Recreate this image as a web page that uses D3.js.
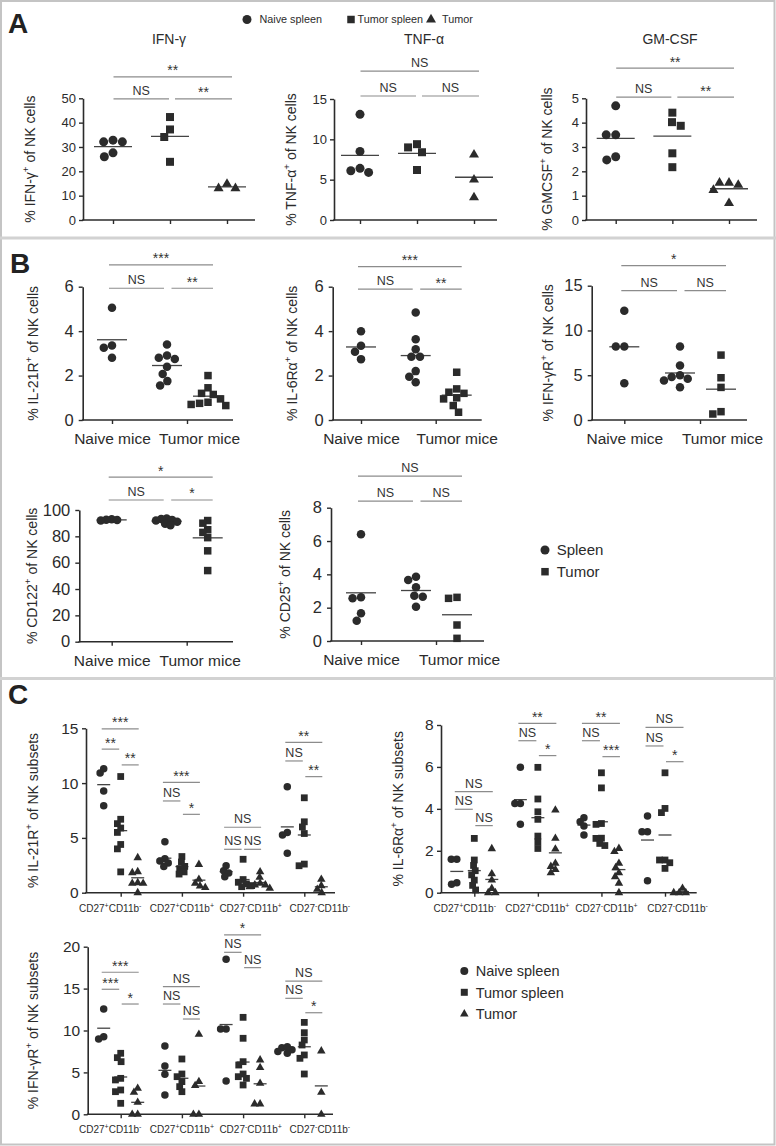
<!DOCTYPE html>
<html><head><meta charset="utf-8">
<script src="https://cdn.jsdelivr.net/npm/d3@7"></script>
<style>
html,body{margin:0;padding:0;background:#fff;}
svg{display:block;}
</style></head><body>
<svg id="fig" width="776" height="1146"></svg>
<script>
// ================= DATA =================
const groupNames = ["Naive spleen", "Tumor spleen", "Tumor"];
const tissueNames = ["Spleen", "Tumor"];
const miceNames = ["Naive mice", "Tumor mice"];
const subsetLabels = ["CD27^+^CD11b^-^", "CD27^+^CD11b^+^", "CD27^-^CD11b^+^", "CD27^-^CD11b^-^"];

// ---- Panel A ----
const aTitles = ["IFN-γ", "TNF-α", "GM-CSF"];
const aYLabels = ["% IFN-γ^+^ of NK cells", "% TNF-α^+^ of NK cells", "% GMCSF^+^ of NK cells"];

const ifngNaive = [32.1, 32.1, 32.8, 26.0, 27.6];
const ifngTumorSpleen = [42.3, 37.2, 34.1, 23.9];
const ifngTumor = [14.8, 13.0, 13.0];
const ifngTicks = [0, 10, 20, 30, 40, 50];
const ifngSig = [["**", 0, 2, 58.8], ["NS", 0, 1, 49.8], ["**", 1, 2, 49.8]];

const tnfNaive = [13.1, 8.5, 6.4, 5.9, 6.1];
const tnfTumorSpleen = [9.0, 8.4, 9.4, 6.2];
const tnfTumor = [8.1, 5.0, 2.8];
const tnfTicks = [0, 5, 10, 15];
const tnfSig = [["NS", 0, 2, 18.46], ["NS", 0, 1, 15.37], ["NS", 1, 2, 15.37]];

const gmcsfNaive = [4.69, 3.5, 3.5, 2.47, 2.6];
const gmcsfTumorSpleen = [4.41, 3.87, 4.02, 2.74, 2.17];
const gmcsfTumor = [1.53, 1.44, 1.23, 1.53, 0.69];
const gmcsfTicks = [0, 1, 2, 3, 4, 5];
const gmcsfSig = [["**", 0, 2, 6.24], ["NS", 0, 1, 5.05], ["**", 1, 2, 5.05]];

// ---- Panel B ----
const bYLabels = ["% IL-21R^+^ of NK cells", "% IL-6Rα^+^ of NK cells", "% IFN-γR^+^ of NK cells",
                  "% CD122^+^ of NK cells", "% CD25^+^ of NK cells"];

const il21rNaive = [5.05, 3.35, 3.25, 2.8];
const il21rTumorSpleen = [3.4, 2.9, 2.75, 2.8, 2.4, 2.07, 1.55, 1.75];
const il21rTumor = [2.0, 1.45, 1.2, 1.15, 0.95, 0.8, 0.75, 0.7, 0.65];
const il21rTicks = [0, 2, 4, 6];
const il21rSig = [["***", 0, 2, 6.98], ["NS", 0, 1, 5.93], ["**", 1, 2, 5.93]];

const il6raNaive = [4.0, 3.34, 2.74, 3.07];
const il6raTumorSpleen = [4.84, 3.63, 3.18, 2.85, 2.85, 2.2, 1.95, 1.7];
const il6raTumor = [2.15, 1.4, 1.25, 1.2, 1.0, 0.95, 0.65, 0.35];
const il6raTicks = [0, 2, 4, 6];
const il6raSig = [["***", 0, 2, 6.9], ["NS", 0, 1, 5.89], ["**", 1, 2, 5.89]];

const ifngrNaive = [12.2, 8.2, 8.2, 4.1];
const ifngrTumorSpleen = [8.2, 6.1, 5.0, 4.8, 4.6, 4.4, 3.65];
const ifngrTumor = [7.25, 4.72, 3.64, 0.93, 0.67];
const ifngrTicks = [0, 5, 10, 15];
const ifngrSig = [["*", 0, 2, 17.24], ["NS", 0, 1, 14.45], ["NS", 1, 2, 14.45]];

const cd122Naive = [93, 92.6, 92.4, 92];
const cd122TumorSpleen = [93.5, 93.2, 92.5, 92, 91, 89.5, 88.5];
const cd122Tumor = [92, 85, 79, 83, 90, 69, 54];
const cd122Ticks = [0, 20, 40, 60, 80, 100];
const cd122Sig = [["*", 0, 2, 125], ["NS", 0, 1, 107.6], ["*", 1, 2, 107.6]];

const cd25Naive = [6.4, 2.62, 2.56, 1.66, 1.22];
const cd25TumorSpleen = [3.66, 3.86, 3.22, 2.72, 2.66, 2.06];
const cd25Tumor = [2.56, 2.62, 0.96, 0.16];
const cd25Ticks = [0, 2, 4, 6, 8];
const cd25Sig = [["NS", 0, 2, 9.9], ["NS", 0, 1, 8.4], ["NS", 1, 2, 8.4]];

// ---- Panel C (one inner list per subset) ----
const cYLabels = ["% IL-21R^+^ of NK subsets", "% IL-6Rα^+^ of NK subsets", "% IFN-γR^+^ of NK subsets"];

const il21rSubNaive = [[10.92, 11.3, 9.28, 7.93], [4.65, 3.1, 2.9, 2.7, 2.4], [2.45, 2.0, 1.8, 1.45], [9.67, 5.5, 5.26, 3.59]];
const il21rSubTumorSpleen = [[10.6, 6.7, 6.3, 5.9, 5.5, 4.4, 4.0, 1.9], [3.3, 2.8, 2.4, 2.2, 1.9, 1.7],
                             [3.05, 1.2, 0.95, 0.8, 0.65, 0.55], [8.66, 6.47, 6.0, 5.4, 2.46, 2.61]];
const il21rSubTumor = [[3.19, 1.91, 1.82, 0.91, 0.85, 0.85, 0.0], [2.58, 1.22, 0.85, 0.61, 0.46],
                       [1.9, 1.4, 0.85, 0.7, 0.7, 0.55, 0.4], [1.22, 0.64, 0.3, 0.0]];
const il21rSubTicks = [0, 5, 10, 15];
const il21rSubSig = [
  [["***", 0, 2, 14.94], ["**", 0, 1, 13.1], ["**", 1, 2, 11.66]],
  [["***", 0, 2, 10.07], ["NS", 0, 1, 8.37], ["*", 1, 2, 7.15]],
  [["NS", 0, 2, 5.97], ["NS", 0, 1, 3.96], ["NS", 1, 2, 3.96]],
  [["**", 0, 2, 13.72], ["NS", 0, 1, 12.02], ["**", 1, 2, 10.59]]
];

const il6raSubNaive = [[1.59, 1.59, 0.4, 0.48], [5.98, 4.26, 4.26, 3.26], [3.58, 3.39, 3.18, 2.75], [3.66, 2.91, 2.91, 0.57]];
const il6raSubTumorSpleen = [[2.59, 1.56, 1.3, 1.05, 0.85, 0.6, 0.35, 0.13], [5.98, 4.47, 3.86, 3.5, 2.7, 2.11, 2.43],
                             [5.72, 5.0, 3.3, 3.26, 2.6, 2.59, 2.25, 2.35], [5.72, 4.02, 3.82, 1.56, 1.56, 1.43, 1.16]];
const il6raSubTumor = [[2.1, 0.9, 0.6, 0.2, 0.0, 0.0], [3.94, 2.59, 2.08, 1.4, 1.25, 1.1, 0.95],
                       [2.11, 1.96, 1.4, 1.19, 0.95, 0.76, 0.45, 0.0], [0.0, 0.0, 0.0, 0.21]];
const il6raSubTicks = [0, 2, 4, 6, 8];
const il6raSubSig = [
  [["NS", 0, 2, 4.82], ["NS", 0, 1, 3.98], ["NS", 1, 2, 3.2]],
  [["**", 0, 2, 8.08], ["NS", 0, 1, 7.25], ["*", 1, 2, 6.54]],
  [["**", 0, 2, 8.08], ["NS", 0, 1, 7.25], ["***", 1, 2, 6.49]],
  [["NS", 0, 2, 7.89], ["NS", 0, 1, 7.0], ["*", 1, 2, 6.25]]
];

const ifngrSubNaive = [[12.56, 9.26, 9.0], [8.15, 5.77, 4.77, 2.3], [18.5, 10.18, 10.18, 3.98], [7.95, 7.5, 8.05, 7.7, 7.3]];
const ifngrSubTumorSpleen = [[7.28, 6.76, 6.28, 4.1, 4.29, 2.9, 2.7, 1.31], [6.6, 4.81, 4.49, 3.9, 3.3, 2.7],
                             [11.57, 9.07, 6.28, 5.88, 4.49, 4.81, 4.29, 3.5], [10.97, 9.74, 8.87, 8.27, 7.08, 6.68, 4.81]];
const ifngrSubTumor = [[2.62, 3.1, 1.43, 0, 0], [9.54, 3.9, 3.42, 0, 0], [6.48, 5.57, 3.7, 1.23, 1.23], [7.55, 2.62, 0]];
const ifngrSubTicks = [0, 5, 10, 15, 20];
const ifngrSubSig = [
  [["***", 0, 2, 16.95], ["***", 0, 1, 14.92], ["*", 1, 2, 13.16]],
  [["NS", 0, 2, 15.23], ["NS", 0, 1, 13.16], ["NS", 1, 2, 11.37]],
  [["*", 0, 2, 21.4], ["NS", 0, 1, 19.33], ["NS", 1, 2, 17.5]],
  [["NS", 0, 2, 15.9], ["NS", 0, 1, 13.84], ["*", 1, 2, 12.12]]
];

// ================= DRAWING =================
const FONT = "'Liberation Sans', Arial, Helvetica, sans-serif";
const INK = "#2b2b2b";
const SIGC = "#8c8c8c";
const svg = d3.select("#fig").attr("font-family", FONT);
const shapeTypes = {circle: d3.symbolCircle, square: d3.symbolSquare, triangle: d3.symbolTriangle};
const groupShapes = ["circle", "square", "triangle"];
const fmt = d3.format("~g");

function symPath(shape, s) {
  const area = shape === "circle" ? Math.PI * (s / 2) * (s / 2)
             : shape === "square" ? s * s : Math.sqrt(3) / 4 * s * s;
  return d3.symbol().type(shapeTypes[shape]).size(area)();
}

function addRich(textSel, str, fs) {
  const parts = str.split("^");
  let shifted = false;
  parts.forEach((p, i) => {
    if (p === "") return;
    const t = textSel.append("tspan").text(p);
    if (i % 2 === 1) { t.attr("font-size", fs * 0.7).attr("dy", -fs * 0.42); shifted = true; }
    else if (shifted) { t.attr("dy", fs * 0.42); shifted = false; }
  });
}

function swarm(values, y, minDist) {
  const pts = values.map(v => ({v, y: y(v), dx: 0}));
  const order = pts.slice().sort((a, b) => a.y - b.y);
  const placed = [];
  order.forEach(p => {
    const iv = [];
    placed.forEach(q => {
      const dy = Math.abs(q.y - p.y);
      if (dy < minDist) { const w = Math.sqrt(minDist * minDist - dy * dy); iv.push([q.dx - w, q.dx + w]); }
    });
    const cands = [0];
    iv.forEach(([a, b]) => cands.push(a, b));
    cands.sort((a, b) => Math.abs(a) - Math.abs(b) || a - b);
    for (const c of cands) {
      if (iv.every(([a, b]) => c <= a + 1e-6 || c >= b - 1e-6)) { p.dx = c; break; }
    }
    placed.push(p);
  });
  return pts;
}

const styleA = {tickFont: 13, tickPad: 3, catFont: 0, catPad: 0, mark: {circle: 9, square: 8, triangle: 10},
                meanHalf: 19, minDist: 9.5, sg: [-0.5, 5, 1, 5], ylFont: 14};
const styleB = {tickFont: 16.5, tickPad: 5, catFont: 15.5, catPad: 9, mark: {circle: 8.5, square: 7.5, triangle: 9},
                meanHalf: 15, minDist: 8.5, sg: [3, 4.5, 3, 5], ylFont: 14};
const styleC = {tickFont: 15.5, tickPad: 3.5, catFont: 10, catPad: 8, mark: {circle: 7.5, square: 6.8, triangle: 8.5},
                meanHalf: 6.5, minDist: 5.5, sg: [2, 1, 1.5, 1], ylFont: 14};

function dotPlot(c) {
  const st = c.style;
  const g = svg.append("g");
  const y = d3.scaleLinear().domain(c.domain).range([c.yBottom, c.yTop]);
  const xc = d3.scalePoint().domain(c.cats).range(c.catRange);
  const xs = c.subs ? d3.scalePoint().domain(c.subs).range(c.subRange) : null;
  const posOf = s => xc(s.cat) + (s.sub != null ? xs(s.sub) : 0);
  const minDist = c.minDist || st.minDist;

  // y axis
  const yg = g.append("g").attr("transform", `translate(${c.x0},0)`)
    .call(d3.axisLeft(y).tickValues(c.ticks).tickFormat(fmt).tickSize(4).tickSizeOuter(0).tickPadding(st.tickPad));
  yg.attr("font-family", FONT);
  yg.select(".domain").attr("stroke", INK).attr("stroke-width", 1.6);
  yg.selectAll(".tick line").attr("stroke", INK).attr("stroke-width", 1.4);
  yg.selectAll(".tick text").attr("font-size", st.tickFont).attr("fill", INK);

  // x axis
  const xa = d3.axisBottom(xc).tickSize(4).tickSizeOuter(0).tickPadding(st.catPad);
  if (!st.catFont) xa.tickFormat(() => "");
  const xg = g.append("g").attr("transform", `translate(0,${c.yBottom})`).call(xa);
  xg.attr("font-family", FONT);
  xg.select(".domain").remove();
  xg.selectAll(".tick line").attr("stroke", INK).attr("stroke-width", 1.4);
  xg.selectAll(".tick text").attr("font-size", st.catFont).attr("fill", INK)
    .attr("x", (d, i) => c.catShift ? c.catShift[i] : 0)
    .each(function (d) {
      const t = d3.select(this);
      if (c.richCats) { t.text(null); addRich(t, d, st.catFont); }
    });
  g.append("line").attr("x1", c.x0 - 0.8).attr("x2", c.xEnd).attr("y1", c.yBottom).attr("y2", c.yBottom)
    .attr("stroke", INK).attr("stroke-width", 1.6);

  // points + mean lines
  c.series.forEach(s => {
    const cx = posOf(s);
    const pts = swarm(s.values, y, minDist);
    g.append("line").attr("x1", cx - st.meanHalf).attr("x2", cx + st.meanHalf)
      .attr("y1", y(d3.mean(s.values))).attr("y2", y(d3.mean(s.values)))
      .attr("stroke", "#444").attr("stroke-width", 1.3);
    g.selectAll(null).data(pts).join("path")
      .attr("d", symPath(s.shape, st.mark[s.shape]))
      .attr("transform", p => `translate(${cx + p.dx},${p.y})`)
      .attr("fill", INK);
  });

  // significance bars
  c.sig.forEach(([lab, a, b, lev, base]) => {
    const ia = (base || 0) + a, ib = (base || 0) + b;
    const pa = posOf(c.series[ia]), pb = posOf(c.series[ib]);
    const x1 = (a === 1) ? pa + st.sg[1] : pa - st.sg[0];
    const x2 = (b === 1) ? pb - st.sg[2] : pb + st.sg[3];
    const ly = y(lev);
    g.append("line").attr("x1", x1).attr("x2", x2).attr("y1", ly).attr("y2", ly)
      .attr("stroke", SIGC).attr("stroke-width", 1.2);
    const star = lab.includes("*");
    g.append("text").attr("x", (x1 + x2) / 2).attr("y", ly - (star ? 1.5 : 4))
      .attr("text-anchor", "middle").attr("font-size", star ? 14 : 12.5).attr("fill", "#333").text(lab);
  });

  // y label
  const yl = g.append("text")
    .attr("transform", `translate(${c.ylX},${(c.yTop + c.yBottom) / 2}) rotate(-90)`)
    .attr("text-anchor", "middle").attr("dy", "0.35em").attr("font-size", st.ylFont).attr("fill", INK);
  addRich(yl, c.ylabel, st.ylFont);

  if (c.title) {
    g.append("text").attr("x", c.titleX).attr("y", c.titleY).attr("text-anchor", "middle")
      .attr("font-size", 14).attr("fill", INK).text(c.title);
  }
}

function seriesA(n, t, u) {
  return [{cat: groupNames[0], values: n, shape: "circle"},
          {cat: groupNames[1], values: t, shape: "square"},
          {cat: groupNames[2], values: u, shape: "triangle"}];
}
function seriesB(n, t, u) {
  return [{cat: miceNames[0], sub: null, values: n, shape: "circle"},
          {cat: miceNames[1], sub: tissueNames[0], values: t, shape: "circle"},
          {cat: miceNames[1], sub: tissueNames[1], values: u, shape: "square"}];
}
function seriesC(n, t, u) {
  const out = [];
  subsetLabels.forEach((s, j) => {
    [n, t, u].forEach((arr, k) => out.push({cat: s, sub: groupNames[k], values: arr[j], shape: groupShapes[k]}));
  });
  return out;
}
function sigC(list) {
  const out = [];
  list.forEach((grp, j) => grp.forEach(([l, a, b, v]) => out.push([l, a, b, v, j * 3])));
  return out;
}

// frame & separators
svg.append("rect").attr("x", 1).attr("y", 1).attr("width", 773.5).attr("height", 1143.5)
  .attr("fill", "none").attr("stroke", "#c4c4c4").attr("stroke-width", 2);
[238, 678.5].forEach(v => svg.append("line").attr("x1", 0).attr("x2", 776).attr("y1", v).attr("y2", v)
  .attr("stroke", "#d2d2d2").attr("stroke-width", 3));

// panel letters
[["A", 8, 33], ["B", 10, 273], ["C", 8, 704]].forEach(([t, x, yy]) =>
  svg.append("text").attr("x", x).attr("y", yy).attr("font-size", 28).attr("font-weight", "bold")
    .attr("fill", "#222").text(t));

// Panel A
dotPlot({style: styleA, x0: 83, xEnd: 255, yTop: 98.3, yBottom: 220, domain: [0, 50], ticks: ifngTicks,
  cats: groupNames, catRange: [113, 227], series: seriesA(ifngNaive, ifngTumorSpleen, ifngTumor),
  sig: ifngSig, ylabel: aYLabels[0], ylX: 30, title: aTitles[0], titleX: 169, titleY: 43.5});
dotPlot({style: styleA, x0: 334, xEnd: 497, yTop: 99, yBottom: 220, domain: [0, 15], ticks: tnfTicks,
  cats: groupNames, catRange: [360, 474], series: seriesA(tnfNaive, tnfTumorSpleen, tnfTumor),
  sig: tnfSig, ylabel: aYLabels[1], ylX: 291, title: aTitles[1], titleX: 424, titleY: 43.5});
dotPlot({style: styleA, x0: 586, xEnd: 757, yTop: 98.3, yBottom: 220, domain: [0, 5], ticks: gmcsfTicks,
  cats: groupNames, catRange: [615.7, 729], series: seriesA(gmcsfNaive, gmcsfTumorSpleen, gmcsfTumor),
  sig: gmcsfSig, ylabel: aYLabels[2], ylX: 547, title: aTitles[2], titleX: 670, titleY: 43.5});

// Panel A legend
const legA = [[247, 259.5], [351, 357.5], [431, 442]];
legA.forEach(([mx, tx], k) => {
  const sz = {circle: 9, square: 7.5, triangle: 10}[groupShapes[k]];
  svg.append("path").attr("d", symPath(groupShapes[k], sz)).attr("transform", `translate(${mx},19.5)`).attr("fill", INK);
  svg.append("text").attr("x", tx).attr("y", 23.3).attr("font-size", 10.8).attr("fill", INK).text(groupNames[k]);
});

// Panel B
const bLayouts = [
  [82.7, 233, 286.7, 420, [0, 6], il21rTicks, [112, 187], seriesB(il21rNaive, il21rTumorSpleen, il21rTumor), il21rSig, 0, 33, 12, 0],
  [332.7, 481.7, 286.7, 420, [0, 6], il6raTicks, [361, 435.7], seriesB(il6raNaive, il6raTumorSpleen, il6raTumor), il6raSig, 1, 292, 21, 0],
  [591.7, 747, 285.7, 420, [0, 15], ifngrTicks, [624.3, 700], seriesB(ifngrNaive, ifngrTumorSpleen, ifngrTumor), ifngrSig, 2, 548, 22, 0],
  [79.3, 233, 510, 641.7, [0, 100], cd122Ticks, [111.7, 186.7], seriesB(cd122Naive, cd122TumorSpleen, cd122Tumor), cd122Sig, 3, 32, 13, 5.5],
  [331, 484, 507.7, 641, [0, 8], cd25Ticks, [361, 436], seriesB(cd25Naive, cd25TumorSpleen, cd25Tumor), cd25Sig, 4, 285, 23, 0]
];
bLayouts.forEach(([x0, xEnd, yT, yB, dom, ticks, cr, ser, sig, li, ylX, shift, md]) =>
  dotPlot({style: styleB, x0, xEnd, yTop: yT, yBottom: yB, domain: dom, ticks, cats: miceNames, catRange: cr,
    subs: tissueNames, subRange: [-20, 21], series: ser, sig, ylabel: bYLabels[li], ylX,
    catShift: [0, shift], minDist: md || null}));

// Panel B legend
[["circle", 550], ["square", 571.7]].forEach(([sh, yy], k) => {
  svg.append("path").attr("d", symPath(sh, sh === "circle" ? 9 : 7.5)).attr("transform", `translate(545,${yy})`).attr("fill", INK);
  svg.append("text").attr("x", 556.7).attr("y", yy + 5.3).attr("font-size", 15).attr("fill", INK).text(tissueNames[k]);
});

// Panel C
const cShift = [-11, -0.5, 7, 15];
dotPlot({style: styleC, x0: 86, xEnd: 335, yTop: 728.3, yBottom: 892.7, domain: [0, 15], ticks: il21rSubTicks,
  cats: subsetLabels, catRange: [120.7, 304.3], subs: groupNames, subRange: [-17, 17], richCats: true, catShift: cShift,
  series: seriesC(il21rSubNaive, il21rSubTumorSpleen, il21rSubTumor), sig: sigC(il21rSubSig),
  ylabel: cYLabels[0], ylX: 33});
dotPlot({style: styleC, x0: 441, xEnd: 696.7, yTop: 725, yBottom: 892.7, domain: [0, 8], ticks: il6raSubTicks,
  cats: subsetLabels, catRange: [474.3, 665], subs: groupNames, subRange: [-17.5, 17.5], richCats: true, catShift: [-10, -1, 4.5, 12],
  series: seriesC(il6raSubNaive, il6raSubTumorSpleen, il6raSubTumor), sig: sigC(il6raSubSig),
  ylabel: cYLabels[1], ylX: 398});
dotPlot({style: styleC, x0: 87.7, xEnd: 333, yTop: 946.7, yBottom: 1114.3, domain: [0, 20], ticks: ifngrSubTicks,
  cats: subsetLabels, catRange: [120.7, 304.3], subs: groupNames, subRange: [-17, 17], richCats: true, catShift: cShift,
  series: seriesC(ifngrSubNaive, ifngrSubTumorSpleen, ifngrSubTumor), sig: sigC(ifngrSubSig),
  ylabel: cYLabels[2], ylX: 33});

// Panel C legend
[971, 992.3, 1014].forEach((yy, k) => {
  const sz = {circle: 8, square: 7, triangle: 8.5}[groupShapes[k]];
  svg.append("path").attr("d", symPath(groupShapes[k], sz)).attr("transform", `translate(464.3,${yy})`).attr("fill", INK);
  svg.append("text").attr("x", 475.7).attr("y", yy + 5.2).attr("font-size", 14.5).attr("fill", INK).text(groupNames[k]);
});
</script>
</body></html>
